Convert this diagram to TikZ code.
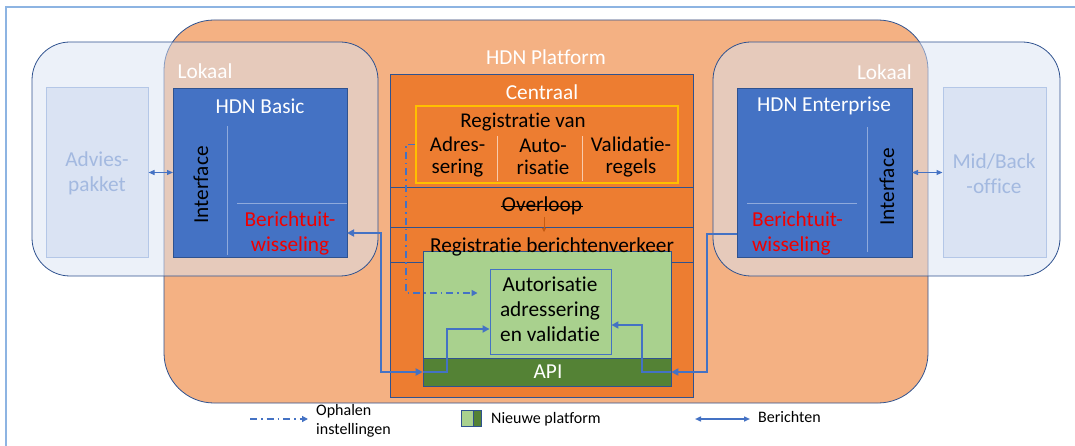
\documentclass[tikz,border=0pt]{standalone}
\usepackage{fontspec}
\setmainfont{Carlito}[Ligatures=NoCommon]
\usetikzlibrary{arrows.meta,calc}
\definecolor{frm}{HTML}{8DB4E2}
\definecolor{bdr}{HTML}{2F528F}
\definecolor{plat}{HTML}{F4B183}
\definecolor{loc}{HTML}{DAE3F3}
\definecolor{locb}{HTML}{B4C7E7}
\definecolor{loct}{HTML}{A3B9E0}
\definecolor{hdn}{HTML}{4472C4}
\definecolor{hdnl}{HTML}{8FAADC}
\definecolor{org}{HTML}{ED7D31}
\definecolor{orgd}{HTML}{C55A11}
\definecolor{yel}{HTML}{FFC000}
\definecolor{tan}{HTML}{F8CBAD}
\definecolor{grn}{HTML}{A9D18E}
\definecolor{grnd}{HTML}{548235}
\definecolor{arr}{HTML}{4472C4}
\definecolor{red1}{HTML}{F00000}
\begin{document}
\begin{tikzpicture}[x=1pt,y=-1pt,
  box/.style={draw=bdr, line width=0.8pt, inner sep=0pt, outer sep=0pt},
  txt/.style={font=\fontsize{21.3}{25}\selectfont, inner sep=0pt, align=center},
  txts/.style={font=\fontsize{21}{22}\selectfont, inner sep=0pt, align=center},
  leg/.style={font=\fontsize{16}{18.5}\selectfont, inner sep=0pt, align=left},
  ber/.style={draw=arr, line width=2pt, arrows={-Triangle[length=7pt,width=7pt]}},
  berboth/.style={draw=arr, line width=2pt, arrows={Triangle[length=7pt,width=7pt]-Triangle[length=7pt,width=7pt]}},
  thinboth/.style={draw=arr, line width=1pt, arrows={Triangle[length=6pt,width=5pt]-Triangle[length=6pt,width=5pt]}},
  dashdot/.style={draw=arr, line width=1.6pt, dash pattern=on 7pt off 4pt on 1.5pt off 4pt, arrows={-Triangle[length=6pt,width=6pt]}},
]
\useasboundingbox (0,0) rectangle (1075,446);
% frame
\draw[frm, line width=1.6pt] (6,446) -- (6,7) -- (1075,7);

% platform
\node[box, fill=plat, rounded corners=50pt, minimum width=764pt, minimum height=383pt] (plat) at (546,211.5) {};
% local regions
\node[box, fill=loc, fill opacity=0.5, rounded corners=38pt, minimum width=346pt, minimum height=234pt] (locl) at (205,159) {};
\node[box, fill=loc, fill opacity=0.5, rounded corners=38pt, minimum width=347pt, minimum height=234pt] (locr) at (886.5,159) {};

% external boxes
\node[draw=locb, line width=1pt, fill=loc, inner sep=0pt, minimum width=102pt, minimum height=169pt] (ad) at (97,172.5) {};
\node[draw=locb, line width=1pt, fill=loc, inner sep=0pt, minimum width=103pt, minimum height=169pt] (mb) at (994.5,172.5) {};
\node[txt, text=loct] (adt) at (97,173.5) {Advies-\\pakket};
\node[txt, text=loct] (mbt) at (994,173.5) {Mid/Back\\-office};

% HDN Basic
\node[box, fill=hdn, minimum width=174pt, minimum height=169pt] (hb) at (260,172.5) {};
\node[txt, text=white] (lokl) at (205,71) {Lokaal};
\node[txt, text=white] (hbt) at (260,106) {HDN Basic};
\draw[hdnl, line width=0.8pt] (227,126) coordinate (hbv1) -- (227,255) coordinate (hbv2);
\draw[hdnl, line width=0.8pt] (237,203) coordinate (hbh1) -- (347,203) coordinate (hbh2);
\node[txt, rotate=90] (hbi) at (201,185) {Interface};
\node[txt, text=red1] (hbb) at (290,233) {Berichtuit-\\wisseling};

% HDN Enterprise
\node[box, fill=hdn, minimum width=175pt, minimum height=169pt] (he) at (824.5,172.5) {};
\node[txt, text=white, anchor=east] (lokr) at (912,72) {Lokaal};
\node[txt, text=white] (het) at (824,106) {HDN Enterprise};
\draw[hdnl, line width=0.8pt] (867,127) coordinate (hev1) -- (867,252) coordinate (hev2);
\draw[hdnl, line width=0.8pt] (747,203) coordinate (heh1) -- (857,203) coordinate (heh2);
\node[txt, rotate=90] (hei) at (887,187) {Interface};
\node[txt, text=red1, align=left, anchor=west] (heb) at (752,233) {Berichtuit-\\wisseling};

% double arrows to external
\draw[thinboth] (ad.east) -- (hb.west);
\draw[thinboth] (he.east) -- (mb.west);

% platform title
\node[txt, text=white] (platt) at (546,57) {HDN Platform};

% central
\node[box, fill=org, minimum width=303pt, minimum height=323pt] (cen) at (541.5,235.5) {};
\node[txt, text=white] (cent) at (542,92) {Centraal};
\draw[bdr, line width=0.8pt] (cen.west |- 0,187) -- (cen.east |- 0,187);
\draw[bdr, line width=0.8pt] (cen.west |- 0,227) -- (cen.east |- 0,227);
\draw[bdr, line width=0.8pt] (cen.west |- 0,262) -- (cen.east |- 0,262);

% yellow registration block
\node[draw=yel, line width=2.2pt, inner sep=0pt, minimum width=262pt, minimum height=77pt] (yl) at (547,144.5) {};
\node[txts] (regv) at (523,122) {Registratie van};
\node[txts] (adr) at (457.5,157) {Adres-\\sering};
\node[txts] (aut) at (543,157) {Auto-\\risatie};
\node[txts] (val) at (631,157) {Validatie-\\regels};
\draw[tan, line width=0.8pt] (497,136) coordinate (s1a) -- (497,181) coordinate (s1b);
\draw[tan, line width=0.8pt] (582,136) coordinate (s2a) -- (582,181) coordinate (s2b);

% overloop
\node[txt] (ov) at (542,206) {Overloop};
\draw[black, line width=0.9pt] ([xshift=-1pt]ov.west) -- ([xshift=1pt]ov.east);
\coordinate (ova) at (544,217);
\coordinate (ovb) at (544,232);
\draw[orgd, line width=0.8pt, -{Triangle[length=4pt,width=4pt]}] (ova) -- (ovb);

% green new platform
\node[draw=bdr, line width=0.6pt, fill=grn, inner sep=0pt, minimum width=248pt, minimum height=135pt] (gr) at (547,318.5) {};
\node[draw=bdr, line width=0.6pt, fill=grnd, inner sep=0pt, minimum width=248pt, minimum height=28pt] (api) at (547,372) {};
\node[txt, text=white] (apit) at (548,372) {API};
\node[txt] (rbv) at (552,247) {Registratie berichtenverkeer};
\node[draw=hdn, line width=0.9pt, fill=grn, inner sep=0pt, minimum width=121pt, minimum height=85pt] (inner) at (550.5,311.5) {};
\node[txt] (innert) at (550,309) {Autorisatie\\adressering\\en validatie};

% dash-dot: ophalen instellingen
\draw[dashdot] (yl.west) -- ++(-9,0) |- ([xshift=-12pt,yshift=18.5pt]inner.west);

% berichten
\draw[berboth] ([yshift=24pt]hb.south east) -| ($(api.west)+(-42,0)$) -- (api.west);
\draw[ber] (api.west) -- ++(24,0) |- ([yshift=-17.5pt]inner.west);
\draw[ber] ([yshift=23pt]he.south west) -| ($(api.east)+(36,0)$) -- (api.east);
\draw[ber] (api.east) -- ++(-29,0) |- ([yshift=-13.5pt]inner.east);

% legend
\coordinate (l1a) at (250,419);
\coordinate (l1b) at (308,419);
\draw[dashdot, line width=1.3pt] (l1a) -- (l1b);
\node[leg, anchor=west] (l1t) at (316,421) {Ophalen\\instellingen};
\node[draw=bdr, line width=0.5pt, fill=grn, inner sep=0pt, minimum width=12pt, minimum height=16pt] (l2a) at (467,418) {};
\node[draw=bdr, line width=0.5pt, fill=grnd, inner sep=0pt, minimum width=8pt, minimum height=16pt, anchor=west] (l2b) at (l2a.east) {};
\node[leg, anchor=west] (l2t) at (491,419) {Nieuwe platform};
\coordinate (l3a) at (695,419);
\coordinate (l3b) at (750,419);
\draw[thinboth, line width=1.4pt] (l3a) -- (l3b);
\node[leg, anchor=west] (l3t) at (758,417) {Berichten};
\end{tikzpicture}
\end{document}
